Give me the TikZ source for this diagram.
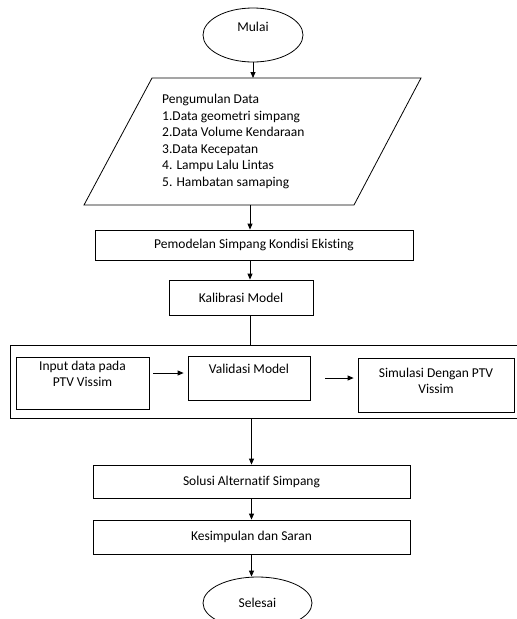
\documentclass[tikz,border=0pt]{standalone}
\usepackage{fontspec}
\setmainfont{Carlito}[Ligatures=NoCommon]
\usetikzlibrary{shapes.geometric, arrows.meta}

\tikzset{
  line/.style={line width=0.8pt},
  arr/.style={line width=0.8pt, -{Triangle[width=5pt, length=6pt]}},
  box/.style={draw, line width=0.8pt, inner sep=2pt},
  term/.style={draw, ellipse, line width=0.8pt, inner sep=0pt}
}

\begin{document}
\begin{tikzpicture}[x=1pt, y=-1pt, font=\fontsize{13.5}{16.6}\selectfont]
        \useasboundingbox (0,0) rectangle (517,619);

        \node[term, minimum width=100, minimum height=54, text height=10pt, text depth=18pt] (mulai) at (253,35) {Mulai};

        \draw[line] (152,78) -- (421,78) -- (354,205) -- (84,205) -- cycle;
        \coordinate (datatop) at (253,78);
        \coordinate (databot) at (250,205);
        \node[anchor=north west, align=left, inner sep=0pt] (data) at (162,94)
          {Pengumulan Data\\1.Data geometri simpang\\2.Data Volume Kendaraan\\3.Data Kecepatan\\4. Lampu Lalu Lintas\\5. Hambatan samaping};

        \node[box, minimum width=318, minimum height=30] (model) at (254,245) {Pemodelan Simpang Kondisi Ekisting};
        \node[box, minimum width=144, minimum height=35] (kalib) at (241,297.5) {Kalibrasi Model};

        \node[draw, line width=0.8pt, minimum width=520, minimum height=73, anchor=north west] (group) at (10,345) {};
        \node[box, minimum width=133, minimum height=52, text height=27.6pt, text depth=20.4pt, align=center] (input) at (82.5,383) {Input data pada\\PTV Vissim};
        \node[box, minimum width=122, minimum height=44, text height=15pt, text depth=25pt] (valid) at (249,378) {Validasi Model};
        \node[box, minimum width=156, minimum height=54, text height=33.6pt, text depth=16.4pt, align=center] (simul) at (436,385) {Simulasi Dengan PTV\\Vissim};

        \node[box, minimum width=317, minimum height=33] (solusi) at (251.5,481.5) {Solusi Alternatif Simpang};
        \node[box, minimum width=317, minimum height=34] (simpul) at (251.5,537) {Kesimpulan dan Saran};
        \node[term, minimum width=109, minimum height=52] (selesai) at (257.5,603) {Selesai};

        \draw[arr] (mulai.south) -- (datatop);
        \draw[arr] (databot) -- (model.north -| databot);
        \draw[arr] (model.south -| databot) -- (kalib.north -| databot);
        \draw[line] (kalib.south -| databot) -- (group.north -| databot);
        \draw[arr, shorten <=4pt, shorten >=4pt] ([yshift=10pt]input.east) -- ([yshift=10pt]input.east -| valid.west);
        \draw[arr, shorten <=15pt, shorten >=4pt] (valid.east) -- (valid.east -| simul.west);
        \draw[arr] (group.south -| solusi) -- (solusi.north);
        \draw[arr] (solusi.south) -- (simpul.north);
        \draw[arr] (simpul.south) -- (simpul.south |- selesai.north);

      \end{tikzpicture}
\end{document}
